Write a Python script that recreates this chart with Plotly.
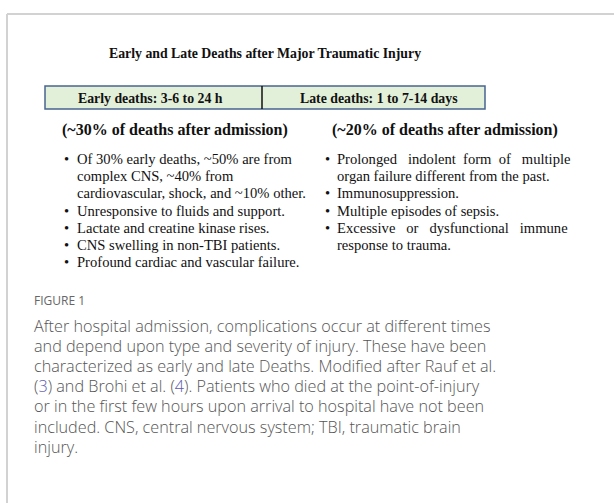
import plotly.graph_objects as go

W, H = 614, 503

title = "Early and Late Deaths after Major Traumatic Injury"
headers = ["Early deaths: 3-6 to 24 h", "Late deaths: 1 to 7-14 days"]
subheaders = ["(~30% of deaths after admission)", "(~20% of deaths after admission)"]

NB = "\u00a0"
left_bullets = [
    ["Of 30% early deaths, ~50% are from", "complex CNS, ~40% from", "cardiovascular, shock, and ~10% other."],
    ["Unresponsive to fluids and support."],
    ["Lactate and creatine kinase rises."],
    ["CNS swelling in non-TBI patients."],
    ["Profound cardiac and vascular failure."],
]
right_bullets = [
    [("Prolonged" + NB * 3 + "indolent" + NB * 2 + "form" + NB * 2 + "of" + NB * 3 + "multiple"),
     "organ failure different from the past."],
    ["Immunosuppression."],
    ["Multiple episodes of sepsis."],
    [("Excessive" + NB * 3 + "or" + NB * 3 + "dysfunctional" + NB * 3 + "immune"), "response to trauma."],
]

fig_label = "FIGURE 1"
REF = "<span style='color:#5b5bb0'>{}</span>"
caption_lines = [
    "After hospital admission, complications occur at different times",
    "and depend upon type and severity of injury. These have been",
    "characterized as early and late Deaths. Modified after Rauf et al.",
    "(" + REF.format("3") + ") and Brohi et al. (" + REF.format("4") + "). Patients who died at the point-of-injury",
    "or in the first few hours upon arrival to hospital have not been",
    "included. CNS, central nervous system; TBI, traumatic brain",
    "injury.",
]

SERIF = "Liberation Serif"
SANS = "Open Sans"

fig = go.Figure()
ann = []
shapes = []

# card border
shapes.append(dict(type="line", x0=7, x1=W + 5, y0=14, y1=14, line=dict(color="#d2d2d2", width=2)))
shapes.append(dict(type="line", x0=7, x1=7, y0=14, y1=H + 5, line=dict(color="#d2d2d2", width=2)))

# title
ann.append(dict(x=265, y=53, text="<b>" + title + "</b>", xanchor="center", yanchor="middle",
                font=dict(family=SERIF, size=13.8, color="#111")))

# header box
shapes.append(dict(type="rect", x0=45, x1=485, y0=86, y1=109, fillcolor="#e2efd9",
                   line=dict(color="#4a6491", width=1.5), layer="below"))
shapes.append(dict(type="line", x0=262, x1=262, y0=86, y1=109, line=dict(color="#111", width=1.5)))
ann.append(dict(x=150, y=98, text="<b>" + headers[0] + "</b>", xanchor="center", yanchor="middle",
                font=dict(family=SERIF, size=13.8, color="#111")))
ann.append(dict(x=379, y=98, text="<b>" + headers[1] + "</b>", xanchor="center", yanchor="middle",
                font=dict(family=SERIF, size=13.8, color="#111")))

# subheaders
ann.append(dict(x=175, y=130, text="<b>" + subheaders[0] + "</b>", xanchor="center", yanchor="middle",
                font=dict(family=SERIF, size=16, color="#111")))
ann.append(dict(x=445, y=130, text="<b>" + subheaders[1] + "</b>", xanchor="center", yanchor="middle",
                font=dict(family=SERIF, size=16, color="#111")))

LS = 17.2


def bullets(items, xb, xt, y0):
    y = y0
    for item in items:
        ann.append(dict(x=xb, y=y, text="•", xanchor="center", yanchor="middle",
                        font=dict(family=SERIF, size=14.6, color="#111")))
        for line in item:
            ann.append(dict(x=xt, y=y, text=line, xanchor="left", yanchor="middle",
                            font=dict(family=SERIF, size=14.6, color="#111")))
            y += LS


bullets(left_bullets, 66, 75, 159)
bullets(right_bullets, 327, 335, 159)

# caption
ann.append(dict(x=32, y=300, text=fig_label, xanchor="left", yanchor="middle",
                font=dict(family=SANS, size=12, color="#666666")))
for i, line in enumerate(caption_lines):
    ann.append(dict(x=32, y=326 + i * 20.1, text=line, xanchor="left", yanchor="middle",
                    font=dict(family=SANS, size=16.2, color="#555555", weight=300)))

for a in ann:
    a.update(xref="x", yref="y", showarrow=False)
for s in shapes:
    s.update(xref="x", yref="y")

fig.update_layout(
    width=W, height=H, margin=dict(l=0, r=0, t=0, b=0),
    paper_bgcolor="white", plot_bgcolor="white",
    xaxis=dict(range=[0, W], visible=False, fixedrange=True),
    yaxis=dict(range=[H, 0], visible=False, fixedrange=True),
    annotations=ann, shapes=shapes, showlegend=False,
)
fig.write_html("out.html", config=dict(displayModeBar=False),
               post_script="document.body.style.margin='0';")
